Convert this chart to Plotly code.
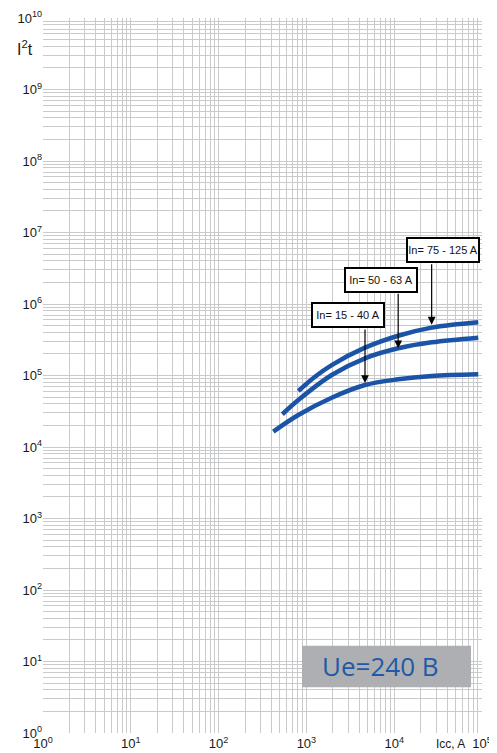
import math
import plotly.graph_objects as go

# ---- data ----
x_15_40 = [420, 809, 1941, 4650, 11100, 26700, 90700]
y_15_40 = [16400, 28000, 48900, 73600, 88500, 98400, 104000]

x_50_63 = [532, 809, 1941, 4650, 11100, 26700, 90700]
y_50_63 = [28700, 45400, 101600, 174000, 240000, 291000, 338000]

x_75_125 = [809, 1253, 1941, 4650, 11100, 26700, 90700]
y_75_125 = [60700, 96200, 140000, 245000, 360000, 467000, 555000]

series_labels = ["In= 15 - 40 A", "In= 50 - 63 A", "In= 75 - 125 A"]
x_decades = [0, 1, 2, 3, 4, 5]
y_decades = list(range(0, 11))
voltage_label = "Ue=240 B"
x_title = "Icc, A"
y_title = "I<sup>2</sup>t"

LINE_COLOR = "#1b54a6"
GRID = "#c9cacc"

fig = go.Figure()
series = [(x_15_40, y_15_40), (x_50_63, y_50_63), (x_75_125, y_75_125)]
for (xs, ys), name in zip(series, series_labels):
    fig.add_trace(go.Scatter(x=xs, y=ys, mode="lines", name=name,
                             line=dict(color=LINE_COLOR, width=4.5, shape="spline", smoothing=1.0),
                             showlegend=False, hoverinfo="skip"))

def minor_vals(decs):
    out = []
    for d in decs[:-1]:
        for m in range(2, 10):
            out.append(m * 10 ** d)
    return out

FONT = "Liberation Sans, Arial, sans-serif"

fig.update_xaxes(type="log", range=[0, 5], showline=False, zeroline=False, automargin=False,
                 tickmode="array", tickvals=[10 ** d for d in x_decades],
                 ticktext=[f"10<sup>{d}</sup>" for d in x_decades],
                 showgrid=True, gridcolor=GRID, gridwidth=1, ticks="", ticklabelstandoff=1,
                 tickfont=dict(family=FONT, size=13, color="#1a1a1a"),
                 minor=dict(showgrid=True, gridcolor=GRID, gridwidth=1,
                            tickmode="array", tickvals=minor_vals(x_decades), ticks=""))
fig.update_yaxes(type="log", range=[0, 10], showline=False, zeroline=False, automargin=False,
                 tickmode="array", tickvals=[10 ** d for d in y_decades],
                 ticktext=[f"10<sup>{d}</sup>" for d in y_decades],
                 showgrid=True, gridcolor=GRID, gridwidth=1, ticks="",
                 tickfont=dict(family=FONT, size=13, color="#1a1a1a"),
                 minor=dict(showgrid=True, gridcolor=GRID, gridwidth=1,
                            tickmode="array", tickvals=minor_vals(y_decades), ticks=""))

annots = []
# label boxes (paper positions)
box_pos = [(0.694, 0.585), (0.771, 0.634), (0.911, 0.676)]
box_font = dict(family="Liberation Sans Narrow, Arial Narrow, Liberation Sans, sans-serif", size=11, color="#111")
for (bx, by), lab in zip(box_pos, series_labels):
    annots.append(dict(xref="paper", yref="paper", x=bx, y=by, text=lab, showarrow=False,
                       font=box_font, bgcolor="white", bordercolor="black", borderwidth=2,
                       width=70, height=22, borderpad=0, xanchor="center", yanchor="middle"))
# arrows pointing at curves
arrow_specs = [(x_15_40[3], y_15_40[3], -57, 2), (x_50_63[4], y_50_63[4], -56, 0),
               (x_75_125[5], y_75_125[5], -65, 3)]
for tx, ty, ay, so in arrow_specs:
    annots.append(dict(xref="x", yref="y", x=math.log10(tx), y=math.log10(ty), text="",
                       showarrow=True, ax=0, ay=ay, arrowhead=2, arrowsize=1.3, arrowwidth=1.2,
                       arrowcolor="black", standoff=so))
# axis titles
annots.append(dict(xref="paper", yref="paper", x=-0.04, y=0.958, text=y_title, showarrow=False,
                   font=dict(family=FONT, size=16, color="#1a1a1a"),
                   xanchor="center", yanchor="middle"))
annots.append(dict(xref="paper", yref="paper", x=0.928, y=-0.016, text=x_title, showarrow=False,
                   font=dict(family=FONT, size=12, color="#1a1a1a"),
                   xanchor="center", yanchor="middle"))
# voltage label
annots.append(dict(xref="paper", yref="paper", x=0.631, y=0.094, text=voltage_label, showarrow=False,
                   font=dict(family="Open Sans, Noto Sans, sans-serif", size=26, color="#1f5aa8"),
                   xanchor="left", yanchor="middle"))

fig.add_shape(type="rect", xref="paper", yref="paper", x0=0.590, x1=0.975, y0=0.064, y1=0.122,
              fillcolor="#adafb2", line=dict(width=0), layer="above")

# page body has an 8px default margin, so the figure is sized/offset to compensate
fig.update_layout(width=489, height=745, margin=dict(l=35, r=15, t=10, b=20, autoexpand=False),
                  paper_bgcolor="white", plot_bgcolor="white", annotations=annots,
                  showlegend=False)

fig.write_html("out.html")
